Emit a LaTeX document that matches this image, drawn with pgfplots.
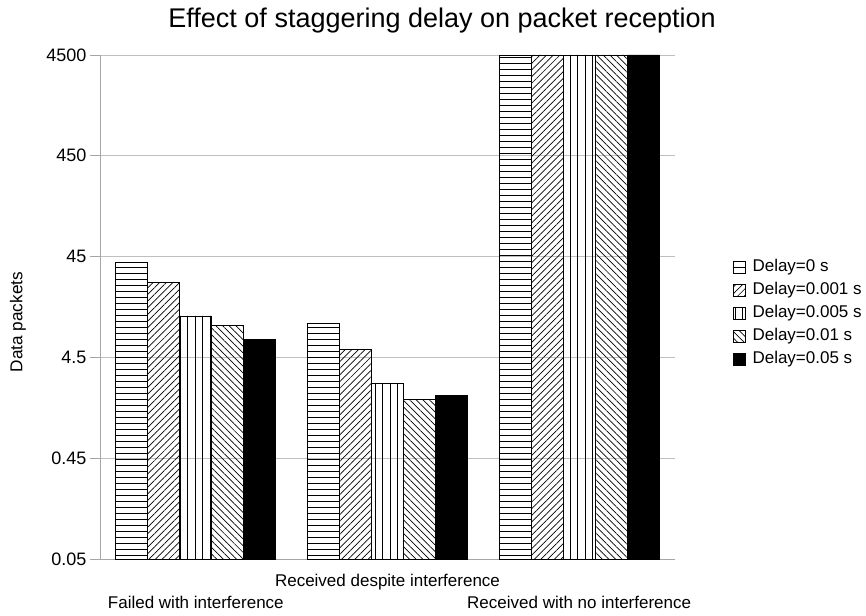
\documentclass[border=0pt]{standalone}
\usepackage{fontspec}
\setmainfont{Liberation Sans}
\usepackage{pgfplots}
\pgfplotsset{compat=1.18}
\usetikzlibrary{patterns.meta}

\begin{document}
\begin{tikzpicture}
\begin{axis}[
    width=575pt, height=504pt, scale only axis,
    ymode=log, log origin=infty,
    xmin=-0.5, xmax=2.5,
    ymin=0.045, ymax=4500,
    ytick={0.045,0.45,4.5,45,450,4500},
    yticklabels={0.05,0.45,4.5,45,450,4500},
    xtick={0,1,2},
    xticklabels={{\strut\\Failed with interference},{\strut Received despite interference},{\strut\\Received with no interference}},
    x tick style={draw=none},
    extra x ticks={-0.5,0.5,1.5,2.5},
    extra x tick labels={},
    extra x tick style={tick style={draw=gray!70, line width=0.8pt}, major tick length=9pt, tick align=outside},
    x tick label style={align=center, font=\fontsize{17}{22}\selectfont, yshift=1.5pt},
    y tick label style={font=\fontsize{18}{20}\selectfont},
    /pgf/number format/assume math mode=true,
    axis x line*=bottom, axis y line*=left,
    axis line style={draw=gray!70, line width=0.8pt, -},
    y tick style={draw=gray!70, line width=0.8pt},
    tick align=outside, major tick length=10pt,
    yminorticks=false,
    ymajorgrids=true,
    grid style={draw=gray!50, line width=0.8pt},
    ylabel={Data packets},
    ylabel style={font=\fontsize{17.2}{20}\selectfont, at={(axis description cs:-0.1426,0.47)}, anchor=center},
    title={Effect of staggering delay on packet reception},
    title style={font=\fontsize{27}{30}\selectfont, at={(0.595,1)}, anchor=south, yshift=12pt},
    ybar, bar width=0.167,
    legend style={at={(1.095,0.487)}, anchor=west, draw=none, fill=none,
        font=\fontsize{17}{20}\selectfont, row sep=3pt, cells={anchor=west},
        nodes={text height=12pt, text depth=4pt, inner sep=2pt}},
    legend image code/.code={\draw[#1, draw=black, line width=0.6pt] (0pt,-6pt) rectangle (12pt,6pt); \path (17pt,0pt);},
]
\addplot[draw=black, line width=0.8pt, bar shift=-0.334,
    pattern={Lines[angle=0, distance=6pt, line width=0.7pt]}, pattern color=black]
    coordinates {(0,39.0) (1,9.79) (2,4500)};
\addplot[draw=black, line width=0.8pt, bar shift=-0.167,
    pattern={Lines[angle=45, distance=4.7pt, line width=0.7pt]}, pattern color=black]
    coordinates {(0,25.0) (1,5.40) (2,4500)};
\addplot[draw=black, line width=0.8pt, bar shift=0,
    pattern={Lines[angle=90, distance=7.5pt, line width=0.7pt]}, pattern color=black]
    coordinates {(0,11.6) (1,2.50) (2,4500)};
\addplot[draw=black, line width=0.8pt, bar shift=0.167,
    pattern={Lines[angle=-45, distance=4.7pt, line width=0.7pt]}, pattern color=black]
    coordinates {(0,9.35) (1,1.72) (2,4500)};
\addplot[draw=black, line width=0.8pt, bar shift=0.334, fill=black]
    coordinates {(0,6.83) (1,1.89) (2,4500)};
\legend{Delay=0 s, Delay=0.001 s, Delay=0.005 s, Delay=0.01 s, Delay=0.05 s}
\end{axis}
% page as large as the original export
\pgfresetboundingbox
\path[use as bounding box] ([xshift=-100pt, yshift=-56pt]current axis.south west)
    rectangle ([xshift=191pt, yshift=55pt]current axis.north east);
\end{tikzpicture}
\end{document}
